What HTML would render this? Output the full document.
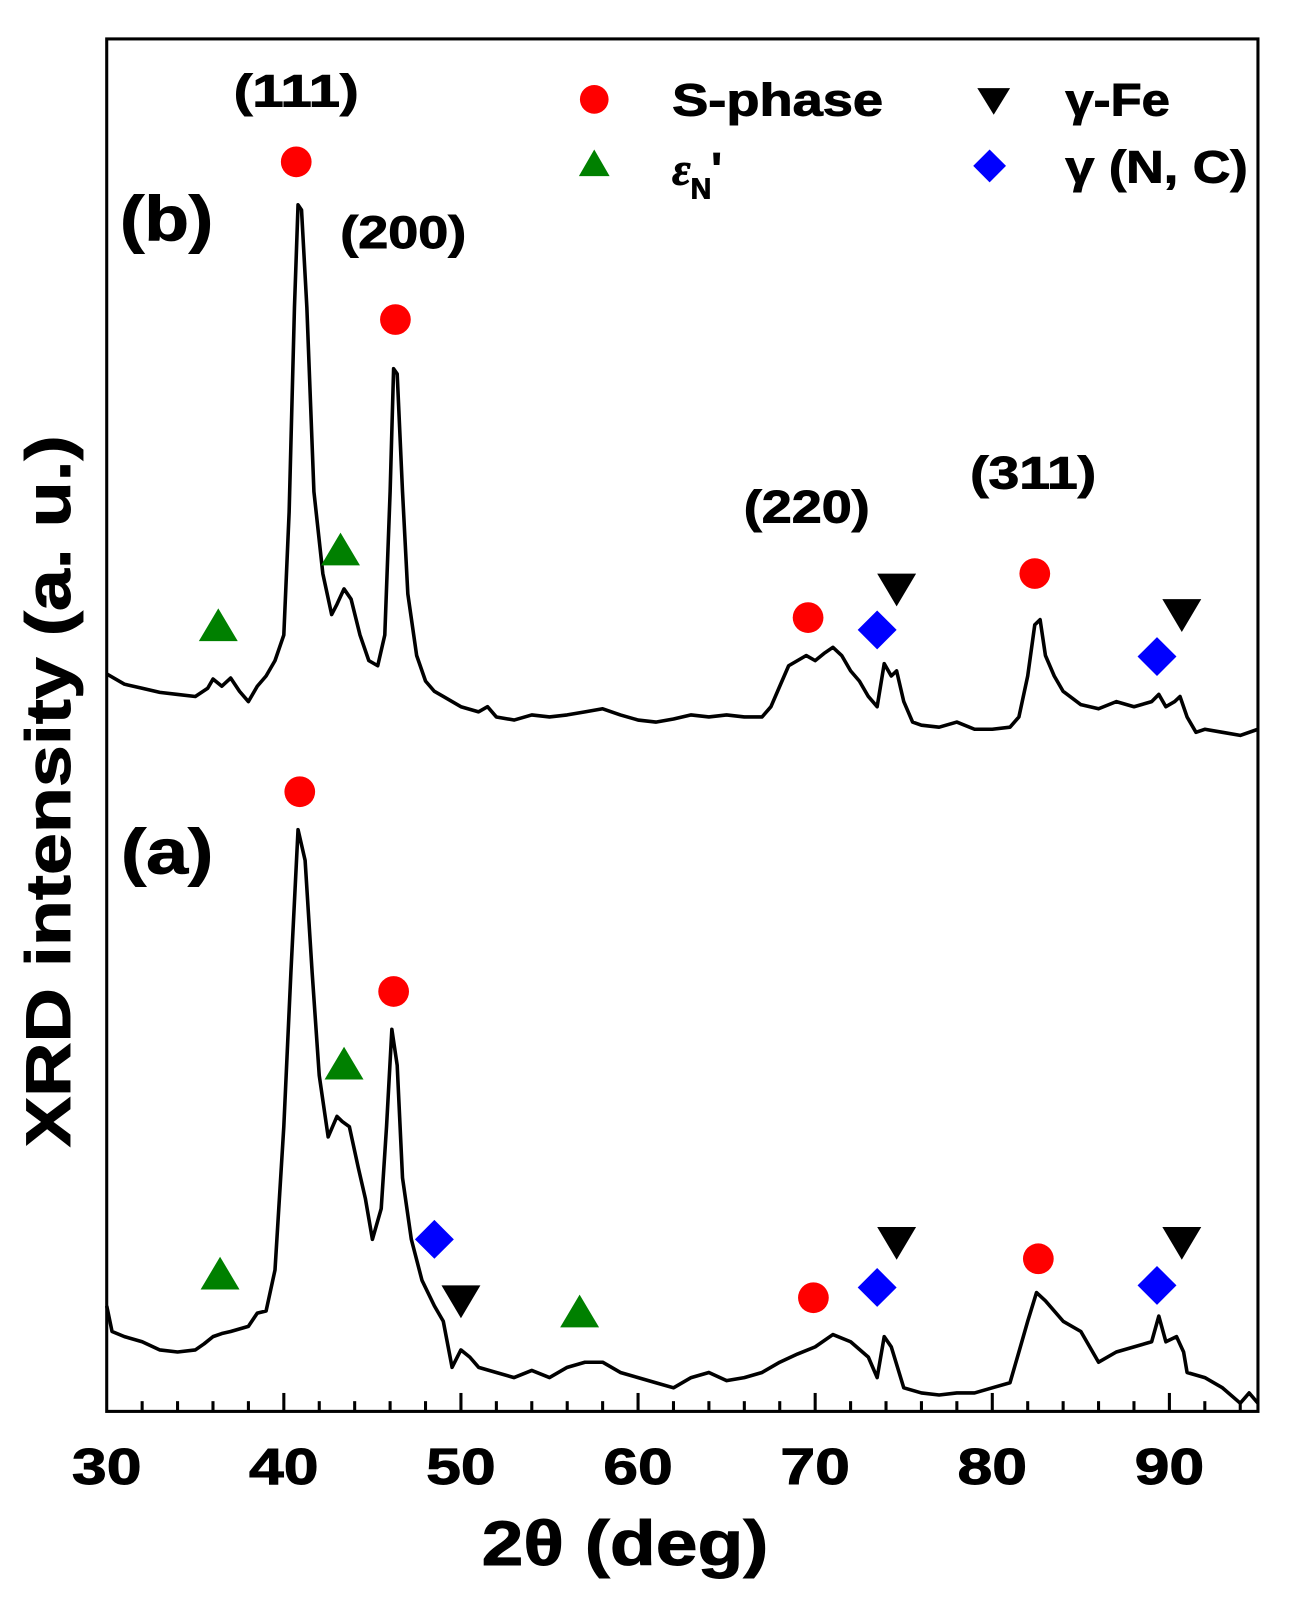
<!DOCTYPE html>
<html><head><meta charset="utf-8"><style>
html,body{margin:0;padding:0;background:#fff;}
svg{display:block;font-family:"Liberation Sans",Arial,sans-serif;font-weight:bold;}
.t{stroke:#000;stroke-width:0.9;}
</style></head><body>
<svg id="chart" width="1294" height="1606" viewBox="0 0 1263 1568" xmlns="http://www.w3.org/2000/svg">
<rect x="104" y="38" width="1124" height="1340" fill="none" stroke="#000" stroke-width="3"/>
<g id="ticks"></g>
<g id="curves"></g>
<g id="markers"></g>
<g font-size="44" class="t">
<text x="228" y="104" textLength="122" lengthAdjust="spacingAndGlyphs">(111)</text>
<text x="332" y="242" textLength="123" lengthAdjust="spacingAndGlyphs">(200)</text>
<text x="726" y="510" textLength="123" lengthAdjust="spacingAndGlyphs">(220)</text>
<text x="947" y="477" textLength="123" lengthAdjust="spacingAndGlyphs">(311)</text>
</g>
<text class="t" x="117" y="235" font-size="62" textLength="91" lengthAdjust="spacingAndGlyphs">(b)</text>
<text class="t" x="118" y="853" font-size="62" textLength="90" lengthAdjust="spacingAndGlyphs">(a)</text>
<g font-size="44">
<circle cx="580" cy="97" r="14" fill="#f00"/>
<text class="t" x="656" y="113" textLength="206" lengthAdjust="spacingAndGlyphs">S-phase</text>
<polygon points="954,86 986,86 970,112" fill="#000"/>
<text class="t" x="1040" y="113" textLength="102" lengthAdjust="spacingAndGlyphs">γ-Fe</text>
<polygon points="565,172 595,172 580,146" fill="#008000"/>
<text class="t" x="656" y="180"><tspan font-style="italic" font-family="Liberation Serif, serif">ε</tspan><tspan font-size="28" dy="14">N</tspan><tspan dy="-14">'</tspan></text>
<polygon points="966,146 982,162 966,178 950,162" fill="#00f"/>
<text class="t" x="1040" y="178" textLength="178" lengthAdjust="spacingAndGlyphs">γ (N, C)</text>
</g>
<g id="ticklabels" font-size="50" class="t"></g>
<text class="t" x="470" y="1528" font-size="62" textLength="280" lengthAdjust="spacingAndGlyphs">2θ (deg)</text>
<text class="t" transform="translate(68,1120) rotate(-90)" font-size="62" textLength="695" lengthAdjust="spacingAndGlyphs">XRD intensity (a. u.)</text>
</svg>
<script>
const xTicks=[30,40,50,60,70,80,90];
const bX=[30,31,32,33,34,35,35.7,36,36.5,37,37.5,38,38.5,39,39.5,40,40.3,40.6,40.8,41,41.3,41.7,42.2,42.7,43,43.4,43.8,44.3,44.8,45.3,45.7,46,46.2,46.4,46.7,47,47.5,48,48.5,49,50,51,51.5,52,53,54,55,56,57,58,59,60,61,62,63,64,65,66,67,67.5,68,68.5,69,69.5,70,70.5,71,71.5,72,72.5,73,73.5,73.9,74.3,74.6,75,75.5,76,77,78,79,80,81,81.5,82,82.4,82.7,83,83.5,84,85,86,87,88,89,89.4,89.8,90.3,90.6,91,91.5,92,93,94,95];
const bY=[720,710,706,702,700,698,706,715,708,716,703,693,708,718,733,758,878,1078,1178,1173,1078,898,818,778,788,803,793,758,733,728,758,898,1018,1013,898,798,738,713,703,698,688,683,688,678,675,680,678,680,683,686,680,675,673,676,680,678,680,678,678,688,708,728,733,738,733,740,746,738,723,713,698,688,730,718,723,693,673,670,668,673,666,666,668,678,718,768,773,738,718,703,690,686,693,688,693,700,688,693,698,678,663,666,663,660,666];
const aX=[30,30.3,31,32,33,34,35,35.5,36,36.5,37,38,38.5,39,39.5,40,40.4,40.8,41.2,41.6,42,42.5,43,43.3,43.7,44.2,44.6,45,45.5,45.8,46.1,46.4,46.7,47.2,47.8,48.5,49,49.5,50,50.5,51,52,53,54,55,56,57,58,59,60,61,62,63,64,65,66,67,68,69,70,71,72,73,73.5,73.9,74.3,75,76,77,78,79,80,81,81.5,82,82.5,83,84,85,86,87,88,89,89.4,89.8,90.4,90.8,91,92,93,94,94.5,95];
const aY=[103,78,73,68,60,58,60,66,73,76,78,83,96,98,138,278,428,568,538,428,328,268,288,283,278,238,208,168,198,278,373,338,228,168,128,103,88,43,60,53,43,38,33,40,33,43,48,48,38,33,28,23,33,38,30,33,38,48,56,63,75,68,53,33,73,63,23,18,16,18,18,23,28,58,88,116,108,88,78,48,58,63,68,93,68,73,58,38,33,23,8,18,8];
const sPhase=[[40.7,1220],[46.3,1066],[69.6,775],[82.4,818],[40.9,605],[46.2,410],[69.9,111],[82.6,149]];
const epsilon=[[36.3,766],[43.2,840],[36.4,133],[43.4,338],[56.7,96]];
const gammaFe=[[74.6,803],[90.7,778],[74.6,165],[90.7,165],[50,108]];
const gammaNC=[[73.5,763],[89.3,737],[48.5,168],[73.5,121],[89.3,123]];
const X0=30,X1=95,PX0=104,PX1=1228,PYB=1378,PYT=38,Y0=0,Y1=1340;
function sx(v){return PX0+(v-X0)/(X1-X0)*(PX1-PX0);}
function sy(v){return PYB-(v-Y0)/(Y1-Y0)*(PYB-PYT);}
const NS="http://www.w3.org/2000/svg";
function mk(t,a){const e=document.createElementNS(NS,t);for(const k in a)e.setAttribute(k,a[k]);return e;}
const tg=document.getElementById('ticks');
for(let v=32;v<95;v+=2){
 const major=v%10===0;
 const l=mk('line',{x1:sx(v),x2:sx(v),y1:PYB,y2:PYB-(major?18:10),stroke:'#000','stroke-width':3});
 
 
 tg.appendChild(l);
}
const tl=document.getElementById('ticklabels');
xTicks.forEach(v=>{const t=mk('text',{x:sx(v)-34,y:1449,textLength:68,lengthAdjust:'spacingAndGlyphs'});t.textContent=v;
 
 
 tl.appendChild(t);});
const cg=document.getElementById('curves');
function curve(xs,ys,name){
 const d=xs.map((x,i)=>(i?'L':'M')+sx(x).toFixed(1)+','+sy(ys[i]).toFixed(1)).join('');
 const p=mk('path',{d:d,fill:'none',stroke:'#000','stroke-width':3.5,'stroke-linejoin':'round'});
 
 
 cg.appendChild(p);
}
curve(bX,bY,'curve-b');
curve(aX,aY,'curve-a');
const mg=document.getElementById('markers');
sPhase.forEach(([x,y])=>{const c=mk('circle',{cx:sx(x),cy:sy(y),r:15,fill:'#f00'});
 
 
 mg.appendChild(c);});
epsilon.forEach(([x,y])=>{const cx=sx(x),cy=sy(y);const p=mk('polygon',{points:`${cx-19},${cy+14} ${cx+19},${cy+14} ${cx},${cy-18}`,fill:'#008000'});
 
 
 mg.appendChild(p);});
gammaFe.forEach(([x,y])=>{const cx=sx(x),cy=sy(y);const p=mk('polygon',{points:`${cx-19},${cy-15} ${cx+19},${cy-15} ${cx},${cy+17}`,fill:'#000'});
 
 
 mg.appendChild(p);});
gammaNC.forEach(([x,y])=>{const cx=sx(x),cy=sy(y);const p=mk('polygon',{points:`${cx},${cy-19} ${cx+19},${cy} ${cx},${cy+19} ${cx-19},${cy}`,fill:'#00f'});
 
 
 mg.appendChild(p);});
</script>
</body></html>
